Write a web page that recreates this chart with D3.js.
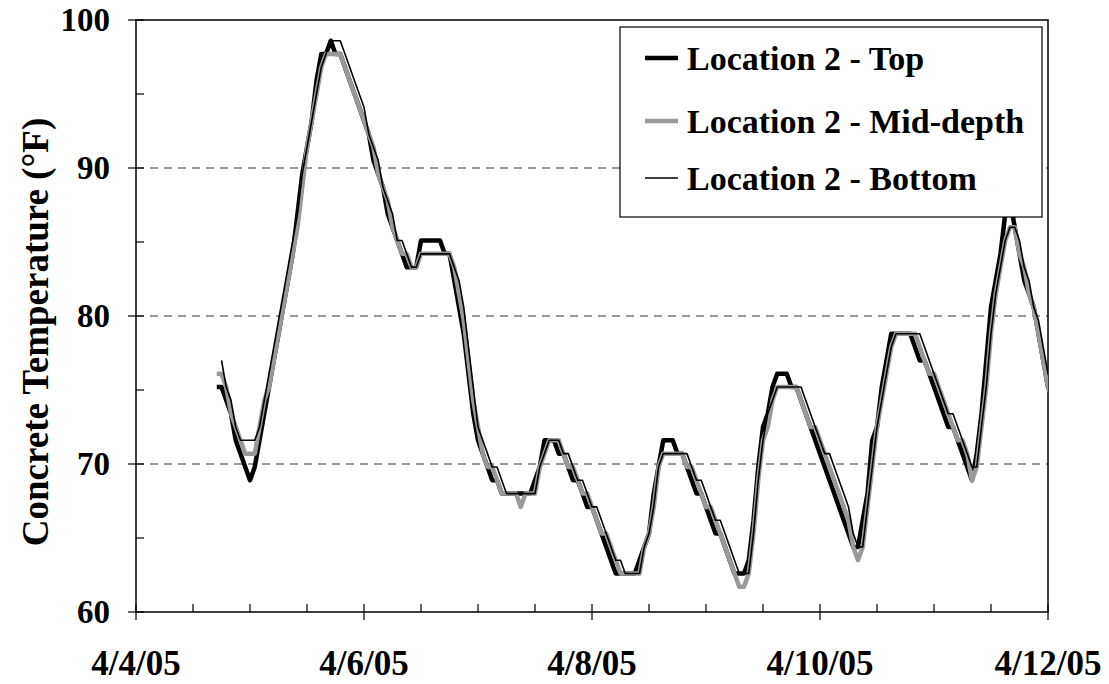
<!DOCTYPE html>
<html>
<head>
    <meta charset="utf-8">
    <script src="https://d3js.org/d3.v7.min.js"></script>
    <title>Concrete Temperature</title>
    <style>
        body {
            margin: 0;
            background: #fff;
        }
        text {
            font-family: "Liberation Serif", "Times New Roman", serif;
            font-weight: bold;
            fill: #000;
        }
    </style>
</head>
<body>
    <svg id="chart"></svg>
    <script>
        // hourly readings, first value at 4/4/05 17:00
        const startDate = new Date(2005, 3, 4)
        const firstHour = 17
        const xTickLabels = ['4/4/05', '4/6/05', '4/8/05', '4/10/05', '4/12/05']
        const yTickLabels = [60, 70, 80, 90, 100]
        const gridValues = [70, 80, 90]
        const seriesNames = ['Location 2 - Top', 'Location 2 - Mid-depth', 'Location 2 - Bottom']

        const topTemps = [
            75.2, 75.2, 74.3, 73.4, 71.6, 70.7, 69.8, 68.9, 69.8, 71.6, 73.4, 75.2,
            77.0, 78.8, 80.6, 82.4, 84.2, 86.9, 89.6, 91.4, 93.2, 95.9, 97.7, 97.7,
            98.6, 97.7, 97.7, 96.8, 95.9, 95.0, 94.1, 93.2, 92.3, 90.5, 89.6, 88.7,
            86.9, 86.0, 85.1, 84.2, 83.3, 83.3, 83.3, 85.1, 85.1, 85.1, 85.1, 85.1,
            84.2, 84.2, 82.4, 80.6, 78.8, 76.1, 73.4, 71.6, 70.7, 69.8, 68.9, 68.9,
            68.0, 68.0, 68.0, 68.0, 68.0, 68.0, 68.0, 68.9, 69.8, 71.6, 71.6, 71.6,
            70.7, 70.7, 69.8, 68.9, 68.9, 68.0, 67.1, 67.1, 66.2, 65.3, 64.4, 63.5,
            62.6, 62.6, 62.6, 62.6, 62.6, 63.5, 64.4, 65.3, 68.0, 69.8, 71.6, 71.6,
            71.6, 70.7, 70.7, 69.8, 68.9, 68.0, 68.0, 67.1, 66.2, 65.3, 65.3, 64.4,
            63.5, 62.6, 62.6, 62.6, 63.5, 66.2, 69.8, 72.5, 73.4, 75.2, 76.1, 76.1,
            76.1, 75.2, 75.2, 74.3, 73.4, 72.5, 71.6, 70.7, 69.8, 68.9, 68.0, 67.1,
            66.2, 65.3, 64.4, 64.4, 66.2, 68.0, 71.6, 72.5, 75.2, 77.0, 78.8, 78.8,
            78.8, 78.8, 78.8, 77.9, 77.0, 77.0, 76.1, 75.2, 74.3, 73.4, 72.5, 72.5,
            71.6, 70.7, 69.8, 68.9, 70.7, 73.4, 77.0, 80.6, 82.4, 84.2, 86.9, 87.8,
            86.0, 84.2, 82.4, 81.5, 80.6, 78.8, 77.0, 75.2, 74.3
        ]
        const midTemps = [
            76.1, 76.1, 75.2, 73.4, 72.5, 71.6, 70.7, 70.7, 70.7, 72.5, 74.3, 75.2,
            77.0, 78.8, 80.6, 82.4, 84.2, 86.0, 88.7, 91.4, 93.2, 95.0, 96.8, 97.7,
            97.7, 97.7, 97.7, 96.8, 95.9, 95.0, 94.1, 93.2, 92.3, 91.4, 89.6, 88.7,
            87.8, 86.0, 85.1, 84.2, 84.2, 83.3, 83.3, 84.2, 84.2, 84.2, 84.2, 84.2,
            84.2, 84.2, 83.3, 81.5, 79.7, 77.0, 74.3, 72.5, 70.7, 69.8, 69.8, 68.9,
            68.0, 68.0, 68.0, 68.0, 67.1, 68.0, 68.0, 68.0, 69.8, 70.7, 71.6, 71.6,
            71.6, 70.7, 69.8, 69.8, 68.9, 68.0, 68.0, 67.1, 66.2, 65.3, 65.3, 64.4,
            63.5, 62.6, 62.6, 62.6, 62.6, 62.6, 64.4, 65.3, 67.1, 69.8, 70.7, 70.7,
            70.7, 70.7, 70.7, 69.8, 69.8, 68.9, 68.0, 67.1, 67.1, 66.2, 65.3, 64.4,
            63.5, 62.6, 61.7, 61.7, 62.6, 65.3, 68.9, 71.6, 72.5, 74.3, 75.2, 75.2,
            75.2, 75.2, 75.2, 74.3, 73.4, 72.5, 72.5, 71.6, 70.7, 69.8, 68.9, 68.0,
            67.1, 66.2, 64.4, 63.5, 64.4, 67.1, 69.8, 72.5, 74.3, 76.1, 77.9, 78.8,
            78.8, 78.8, 78.8, 78.8, 77.9, 77.0, 76.1, 76.1, 75.2, 74.3, 73.4, 72.5,
            71.6, 71.6, 70.7, 68.9, 69.8, 72.5, 75.2, 78.8, 81.5, 83.3, 85.1, 86.0,
            86.0, 84.2, 83.3, 81.5, 80.6, 78.8, 77.0, 75.2, 74.3
        ]
        const bottomTemps = [
            null, 77.0, 75.2, 74.3, 72.5, 71.6, 71.6, 71.6, 71.6, 72.5, 74.3, 76.1,
            77.9, 79.7, 81.5, 83.3, 85.1, 86.9, 89.6, 91.4, 93.2, 95.0, 96.8, 97.7,
            98.6, 98.6, 98.6, 97.7, 96.8, 95.9, 95.0, 94.1, 92.3, 91.4, 90.5, 88.7,
            87.8, 86.9, 85.1, 85.1, 84.2, 83.3, 83.3, 84.2, 84.2, 84.2, 84.2, 84.2,
            84.2, 84.2, 83.3, 82.4, 80.6, 77.9, 75.2, 72.5, 71.6, 70.7, 69.8, 69.8,
            68.9, 68.0, 68.0, 68.0, 68.0, 68.0, 68.0, 68.0, 69.8, 70.7, 71.6, 71.6,
            71.6, 70.7, 70.7, 69.8, 68.9, 68.9, 68.0, 67.1, 67.1, 66.2, 65.3, 64.4,
            63.5, 63.5, 62.6, 62.6, 62.6, 62.6, 64.4, 65.3, 67.1, 69.8, 70.7, 70.7,
            70.7, 70.7, 70.7, 70.7, 69.8, 68.9, 68.9, 68.0, 67.1, 66.2, 66.2, 65.3,
            64.4, 63.5, 62.6, 62.6, 62.6, 65.3, 68.9, 71.6, 73.4, 74.3, 75.2, 75.2,
            75.2, 75.2, 75.2, 75.2, 74.3, 73.4, 72.5, 71.6, 70.7, 70.7, 69.8, 68.9,
            68.0, 67.1, 65.3, 64.4, 64.4, 67.1, 69.8, 72.5, 74.3, 76.1, 77.9, 78.8,
            78.8, 78.8, 78.8, 78.8, 78.8, 77.9, 77.0, 76.1, 75.2, 74.3, 73.4, 73.4,
            72.5, 71.6, 70.7, 69.8, 69.8, 72.5, 75.2, 78.8, 81.5, 83.3, 85.1, 86.0,
            86.0, 85.1, 83.3, 82.4, 80.6, 79.7, 77.9, 76.1, 75.2
        ]

        const width = 1109
        const height = 684
        const plot = { left: 136, right: 1048, top: 20, bottom: 612 }

        const svg = d3.select('#chart').attr('width', width).attr('height', height)

        const x = d3.scaleTime()
            .domain([startDate, d3.timeDay.offset(startDate, 8)])
            .range([plot.left, plot.right])
        const y = d3.scaleLinear()
            .domain([60, 100])
            .range([plot.bottom, plot.top])

        const timeOf = i => d3.timeHour.offset(startDate, firstHour + i)

        // dashed grid lines
        svg.append('g').selectAll('line').data(gridValues).enter().append('line')
            .attr('x1', plot.left).attr('x2', plot.right)
            .attr('y1', d => y(d)).attr('y2', d => y(d))
            .attr('stroke', '#333').attr('stroke-width', 1.2)
            .attr('stroke-dasharray', '8,6')

        // plot frame
        svg.append('rect')
            .attr('x', plot.left).attr('y', plot.top)
            .attr('width', plot.right - plot.left).attr('height', plot.bottom - plot.top)
            .attr('fill', 'none').attr('stroke', '#000').attr('stroke-width', 1.5)

        svg.append('clipPath').attr('id', 'clip').append('rect')
            .attr('x', plot.left).attr('y', plot.top)
            .attr('width', plot.right - plot.left).attr('height', plot.bottom - plot.top)

        const line = d3.line()
            .defined(d => d != null)
            .x((d, i) => x(timeOf(i)))
            .y(d => y(d))

        const series = [
            { name: seriesNames[0], values: topTemps, color: '#000', width: 4.5 },
            { name: seriesNames[1], values: midTemps, color: '#999', width: 4.5 },
            { name: seriesNames[2], values: bottomTemps, color: '#000', width: 1.6 }
        ]

        svg.append('g').attr('clip-path', 'url(#clip)')
            .selectAll('path').data(series).enter().append('path')
            .attr('d', d => line(d.values))
            .attr('fill', 'none')
            .attr('stroke', d => d.color)
            .attr('stroke-width', d => d.width)
            .attr('stroke-linejoin', 'round')

        // x ticks: every 12 hours, majors every 2 days
        const xTicks = d3.timeHour.every(12).range(startDate, d3.timeHour.offset(x.domain()[1], 1))
        svg.append('g').selectAll('line').data(xTicks).enter().append('line')
            .attr('x1', d => x(d)).attr('x2', d => x(d))
            .attr('y1', plot.bottom - 8)
            .attr('y2', (d, i) => i % 4 === 0 ? plot.bottom + 8 : plot.bottom)
            .attr('stroke', '#000').attr('stroke-width', 1.2)

        svg.append('g').selectAll('text').data(xTickLabels).enter().append('text')
            .attr('x', (d, i) => x(d3.timeDay.offset(startDate, i * 2)))
            .attr('y', 675)
            .attr('text-anchor', 'middle')
            .attr('font-size', 35)
            .text(d => d)

        // y ticks every 5
        const yTicks = d3.range(60, 101, 5)
        svg.append('g').selectAll('line').data(yTicks).enter().append('line')
            .attr('x1', d => d % 10 === 0 ? plot.left - 8 : plot.left)
            .attr('x2', plot.left + 8)
            .attr('y1', d => y(d)).attr('y2', d => y(d))
            .attr('stroke', '#000').attr('stroke-width', 1.2)

        svg.append('g').selectAll('text').data(yTickLabels).enter().append('text')
            .attr('x', 110)
            .attr('y', d => y(d) + 11)
            .attr('text-anchor', 'end')
            .attr('font-size', 33)
            .text(d => d)

        svg.append('text')
            .attr('transform', 'translate(48,332) rotate(-90)')
            .attr('text-anchor', 'middle')
            .attr('font-size', 37)
            .text('Concrete Temperature (°F)')

        // legend
        const legend = svg.append('g')
        legend.append('rect')
            .attr('x', 620).attr('y', 27)
            .attr('width', 422).attr('height', 190)
            .attr('fill', '#fff').attr('stroke', '#000').attr('stroke-width', 1.2)

        const legendY = [58, 121, 178]
        const items = legend.selectAll('g').data(series).enter().append('g')
            .attr('transform', (d, i) => 'translate(0,' + legendY[i] + ')')
        items.append('line')
            .attr('x1', 645).attr('x2', 678)
            .attr('stroke', d => d.color)
            .attr('stroke-width', d => d.width)
        items.append('text')
            .attr('x', 687).attr('y', 12)
            .attr('font-size', 34)
            .text(d => d.name)
    </script>
</body>
</html>
